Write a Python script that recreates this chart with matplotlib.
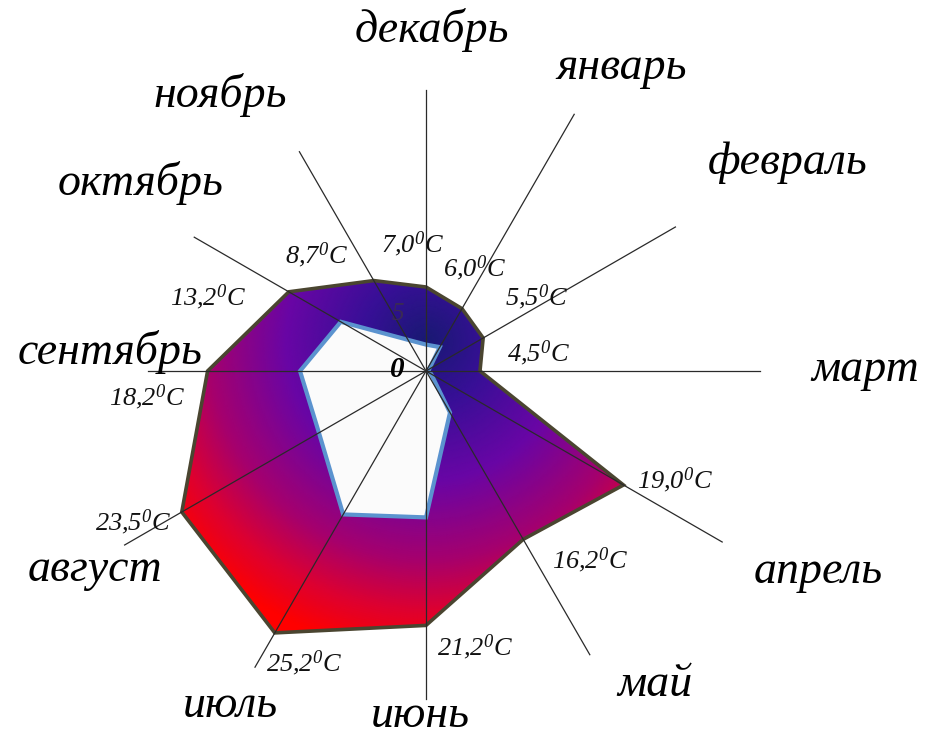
import numpy as np
import matplotlib
matplotlib.use("Agg")
import matplotlib.pyplot as plt
from matplotlib.colors import LinearSegmentedColormap

# ---------------- data ----------------
months = ["декабрь", "январь", "февраль", "март", "апрель", "май",
          "июнь", "июль", "август", "сентябрь", "октябрь", "ноябрь"]
temps = [7.0, 6.0, 5.5, 4.5, 19.0, 16.2, 21.2, 25.2, 23.5, 18.2, 13.2, 8.7]
inner = [2.2, 2.3, 0.3, 0.2, 0.5, 4.0, 12.2, 13.8, 10.3, 10.5, 8.2, 3.0]
tick_labels = ["0", "5"]
tick_values = [0, 5]

# ---------------- layout / style ----------------
spoke_len = [23.4, 24.7, 24.0, 27.8, 28.5, 27.3, 27.3, 28.5, 29.0, 23.2, 22.3, 21.1]
month_pos = [(1.0, 28.4), (32.8, 30.1), (60.1, 34.8), (89.9, 36.6), (117.1, 36.7),
             (143.9, 32.4), (181.0, 28.7), (210.4, 32.3), (239.0, 32.2),
             (273.4, 26.4), (303.3, 28.5), (323.3, 28.7)]
value_pos = [(354.1, 10.6), (25.4, 9.5), (56.3, 11.1), (80.9, 9.45), (113.6, 22.65),
             (139.1, 20.85), (170.0, 23.4), (202.7, 26.4), (242.7, 27.5),
             (264.7, 23.35), (288.7, 19.2), (316.5, 13.3)]
tick_pos = [(272.0, 2.4), (333.4, 5.3)]

plt.rcParams['font.family'] = ['Liberation Serif', 'DejaVu Serif']
plt.rcParams['mathtext.fontset'] = 'custom'
plt.rcParams['mathtext.rm'] = 'Liberation Serif:italic'
plt.rcParams['mathtext.it'] = 'Liberation Serif:italic'
plt.rcParams['mathtext.default'] = 'regular'

W, H = 925, 739
fig = plt.figure(figsize=(W / 100, H / 100), dpi=100)
fig.patch.set_facecolor('white')

R = 30.0
cx, cy, px_per_unit = 426, 739 - 371, 12.0
rad_px = R * px_per_unit
ax = fig.add_axes([(cx - rad_px) / W, (cy - rad_px) / H, 2 * rad_px / W, 2 * rad_px / H],
                  projection='polar')
ax.set_theta_offset(np.pi / 2)
ax.set_theta_direction(-1)
ax.set_ylim(0, R)
ax.set_axis_off()

n = len(months)
thetas = np.deg2rad(np.arange(n) * 360.0 / n)
th_closed = np.append(thetas, thetas[0])
temps_closed = np.append(temps, temps[0])
inner_closed = np.append(inner, inner[0])

# gradient fill
cmap = LinearSegmentedColormap.from_list("bluered", [
    (0.00, (25 / 255, 25 / 255, 115 / 255)),
    (0.20, (55 / 255, 15 / 255, 150 / 255)),
    (0.45, (105 / 255, 5 / 255, 165 / 255)),
    (0.70, (165 / 255, 0, 110 / 255)),
    (0.86, (220 / 255, 0, 50 / 255)),
    (1.00, (255 / 255, 0, 0)),
])
tg = np.linspace(0, 2 * np.pi, 361)
rg = np.linspace(0, 27, 160)
TT, RRg = np.meshgrid(tg, rg)
xx = RRg * np.sin(TT)
yy = RRg * np.cos(TT)
C = np.clip(np.hypot(xx, yy - 2.5) / 26.0, 0, 1)
mesh = ax.pcolormesh(TT, RRg, C, cmap=cmap, vmin=0, vmax=1, shading='gouraud', zorder=1)

outer_patch = ax.fill(th_closed, temps_closed, facecolor='none',
                      edgecolor='#4a4530', linewidth=2.6, zorder=3)[0]
mesh.set_clip_path(outer_patch)

ax.fill(th_closed, inner_closed, facecolor='#fbfbfb', edgecolor='#5b93cf',
        linewidth=3.0, zorder=2, joinstyle='miter')

# spokes
for th, L in zip(thetas, spoke_len):
    ax.plot([th, th], [0, L], color='#2a2a2a', linewidth=0.9, zorder=4)

# month labels
for name, (a, r) in zip(months, month_pos):
    ax.text(np.deg2rad(a), r, name, ha='center', va='center', fontsize=33,
            fontstyle='italic', color='black', zorder=6)

# value labels
for v, (a, r) in zip(temps, value_pos):
    s = f"{v:.1f}".replace('.', ',') + r"$^{0}$C"
    ax.text(np.deg2rad(a), r, s, ha='center', va='center', fontsize=19,
            fontstyle='italic', color='#111111', zorder=6)

# radial tick labels
ax.text(np.deg2rad(tick_pos[0][0]), tick_pos[0][1], tick_labels[0], ha='center', va='center',
        fontsize=21, fontstyle='italic', fontweight='bold', color='black', zorder=6)
ax.text(np.deg2rad(tick_pos[1][0]), tick_pos[1][1], tick_labels[1], ha='center', va='center',
        fontsize=18, fontstyle='italic', color='#3a2a55', zorder=6)

fig.savefig("out.png", dpi=100, facecolor='white')
